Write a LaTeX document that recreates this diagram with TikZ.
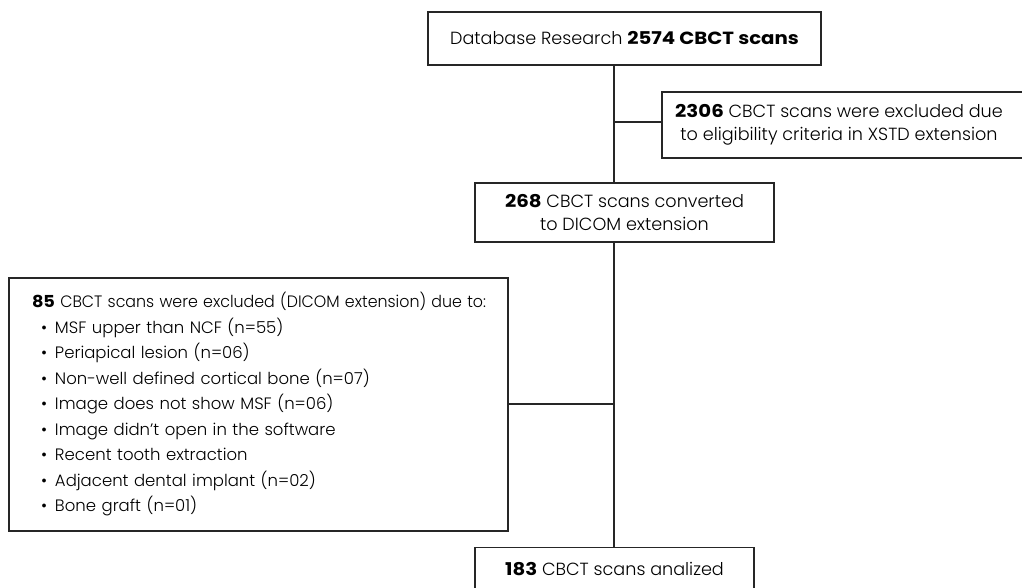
\documentclass[tikz,border=0pt]{standalone}
\usepackage{fontspec}
\setmainfont{Poppins}[UprightFont={* Light}, BoldFont={* Bold}, BoldFeatures={FakeStretch=1.12}]
\begin{document}
\begin{tikzpicture}[x=1pt,y=-1pt,
  box/.style={draw=black!85, line width=1.1pt, inner sep=0pt, align=center,
    font=\fontsize{17.6}{22.5}\selectfont},
  link/.style={draw=black!85, line width=1.1pt}]
\useasboundingbox (0,0) rectangle (1022,588);
\node[box, minimum width=393, minimum height=53] (top) at (624.5,38.5)
  {Database Research \textbf{2574 CBCT scans}};
\node[box, minimum width=368, minimum height=66] (exc1) at (846,125)
  {\hspace*{-14pt}\textbf{2306} CBCT scans were excluded due\\\hspace*{-14pt}to eligibility criteria in XSTD extension};
\node[box, minimum width=299, minimum height=59] (conv) at (624.5,212.5)
  {\textbf{268} CBCT scans converted\\to DICOM extension};
\node[box, minimum width=499, minimum height=253, text width=453, align=left,
  font=\fontsize{16.5}{25.5}\selectfont] (exc2) at (258.5,404.5)
  {\scalebox{0.96}[1]{\textbf{85} CBCT scans were excluded (DICOM extension) due to:}\\
   \hspace*{9pt}\makebox[14pt][l]{•}MSF upper than NCF (n=55)\\
   \hspace*{9pt}\makebox[14pt][l]{•}Periapical lesion (n=06)\\
   \hspace*{9pt}\makebox[14pt][l]{•}Non-well defined cortical bone (n=07)\\
   \hspace*{9pt}\makebox[14pt][l]{•}Image does not show MSF (n=06)\\
   \hspace*{9pt}\makebox[14pt][l]{•}Image didn’t open in the software\\
   \hspace*{9pt}\makebox[14pt][l]{•}Recent tooth extraction\\
   \hspace*{9pt}\makebox[14pt][l]{•}Adjacent dental implant (n=02)\\
   \hspace*{9pt}\makebox[14pt][l]{•}Bone graft (n=01)};
\node[box, minimum width=279, minimum height=43, anchor=north] (final) at (614.5,547)
  {\textbf{183} CBCT scans analized};
\coordinate (j1) at (614,122);
\coordinate (j2) at (614,404);
\draw[link] (top.south -| j1) -- (conv.north -| j1);
\draw[link] (j1) -- (exc1.west |- j1);
\draw[link] (conv.south -| j2) -- (final.north -| j2);
\draw[link] (j2) -- (exc2.east |- j2);
\end{tikzpicture}
\end{document}
